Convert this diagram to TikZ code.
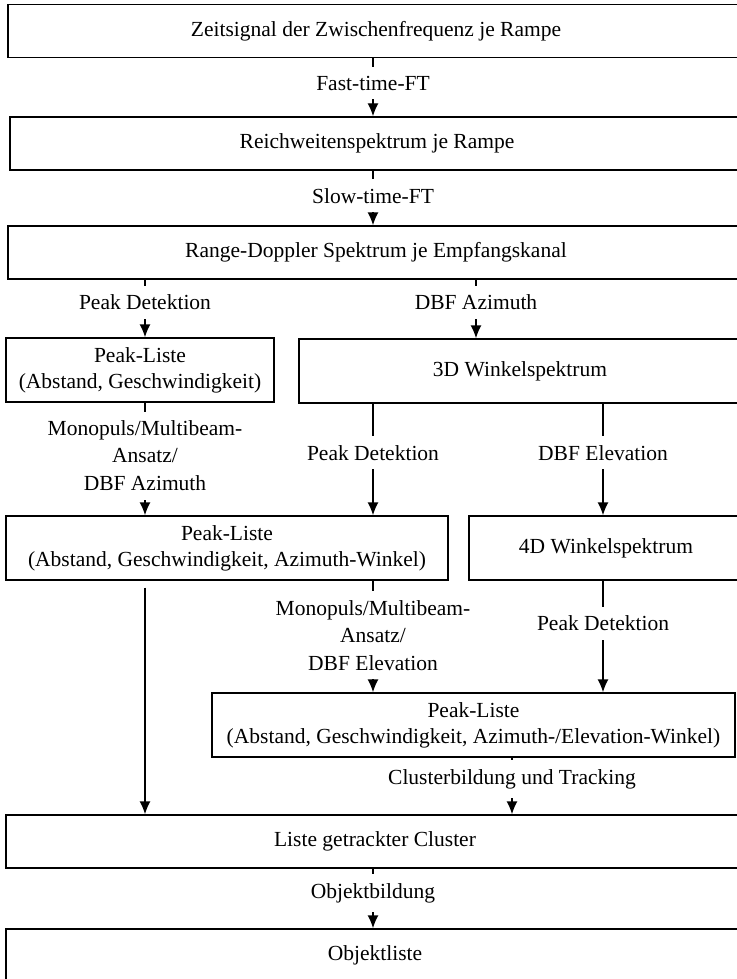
\documentclass[tikz,border=0pt]{standalone}
\usepackage{fontspec}
\setmainfont{Liberation Serif}
\usetikzlibrary{arrows.meta}

\begin{document}
\begin{tikzpicture}[x=0.5pt, y=-0.5pt]

\tikzset{box/.style = {draw, line width=0.7pt, minimum height=26.5pt, inner sep=0pt, align=center, font=\fontsize{10.75}{13}\selectfont}}
\tikzset{tallbox/.style = {box, minimum height=32pt}}
\tikzset{edge/.style = {->, line width=0.7pt, > = {Latex[length=6.5pt, width=5.5pt]}}}
\tikzset{lbl/.style = {fill=white, inner xsep=2pt, inner ysep=4.5pt, align=center, font=\fontsize{10.75}{13.75}\selectfont}}
\useasboundingbox (0,0) rectangle (736,979);
% columns
\coordinate (colA) at (145,0);
\coordinate (colB) at (373,0);
\coordinate (colC) at (476,0);
\coordinate (colD) at (603,0);
\coordinate (colE) at (512,0);
% boxes
\node[box, minimum width=368pt] (zeit) at (376,31) {Zeitsignal der Zwischenfrequenz je Rampe};
\node[box, minimum width=367pt] (reich) at (377,143.5) {Reichweitenspektrum je Rampe};
\node[box, minimum width=368pt] (rd) at (376,252.5) {Range-Doppler Spektrum je Empfangskanal};
\node[tallbox, minimum width=134pt] (pl1) at (140,370) {Peak-Liste\\(Abstand, Geschwindigkeit)};
\node[tallbox, minimum width=221pt] (w3d) at (520,371) {3D Winkelspektrum};
\node[tallbox, minimum width=221pt] (pl2) at (227,548) {Peak-Liste\\(Abstand, Geschwindigkeit, Azimuth-Winkel)};
\node[tallbox, minimum width=137pt] (w4d) at (606,548) {4D Winkelspektrum};
\node[tallbox, minimum width=261.5pt] (pl3) at (473.5,725) {Peak-Liste\\(Abstand, Geschwindigkeit, Azimuth-/Elevation-Winkel)};
\node[box, minimum width=369pt] (liste) at (375,841.5) {Liste getrackter Cluster};
\node[box, minimum width=369pt] (objekt) at (375,955.5) {Objektliste};
% edges
\draw[edge] (zeit.south -| colB) -- node[lbl, pos=0.43] {Fast-time-FT} (reich.north -| colB);
\draw[edge] (reich.south -| colB) -- node[lbl, pos=0.46] {Slow-time-FT} (rd.north -| colB);
\draw[edge] (rd.south -| colA) -- node[lbl, pos=0.39] {Peak Detektion} (pl1.north -| colA);
\draw[edge] (rd.south -| colC) -- node[lbl, pos=0.39] {DBF Azimuth} (w3d.north -| colC);
\draw[edge] (pl1.south -| colA) -- node[lbl, pos=0.47] {Monopuls/Multibeam-\\Ansatz/\\DBF Azimuth} (pl2.north -| colA);
\draw[edge] (w3d.south -| colB) -- node[lbl, pos=0.44] {Peak Detektion} (pl2.north -| colB);
\draw[edge] (w3d.south -| colD) -- node[lbl, pos=0.44] {DBF Elevation} (w4d.north -| colD);
\draw[edge] (pl2.south -| colB) -- node[lbl, pos=0.49] {Monopuls/Multibeam-\\Ansatz/\\DBF Elevation} (pl3.north -| colB);
\draw[edge] (w4d.south -| colD) -- node[lbl, pos=0.38] {Peak Detektion} (pl3.north -| colD);
\draw[edge, shorten <=3.5pt] (pl2.south -| colA) -- (liste.north -| colA);
\draw[edge] (pl3.south -| colE) -- node[lbl, pos=0.38] {Clusterbildung und Tracking} (liste.north -| colE);
\draw[edge] (liste.south -| colB) -- node[lbl, pos=0.41] {Objektbildung} (objekt.north -| colB);
\end{tikzpicture}
\end{document}
